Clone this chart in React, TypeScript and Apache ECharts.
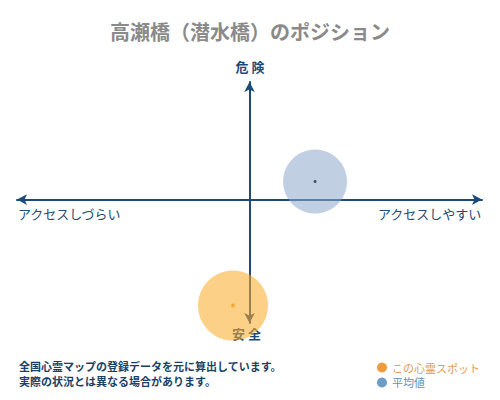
import React, { useEffect, useRef } from "react";
import * as echarts from "echarts";

const titleText = "高瀬橋（潜水橋）のポジション";
const seriesNames = ["この心霊スポット", "平均値"];
const spotPoint = [-7.1, -90.2];
const avgPoint = [28.2, 15.3];
const axisLabels = { top: "危 険", bottom: "安 全", left: "アクセスしづらい", right: "アクセスしやすい" };
const noteLines = ["全国心霊マップの登録データを元に算出しています。", "実際の状況とは異なる場合があります。"];

const FONT = '"Noto Sans CJK JP", "Noto Sans", sans-serif';
const NAVY = "#1c4a7a";

export default function App() {
  const ref = useRef<HTMLDivElement>(null);
  useEffect(() => {
    document.body.style.margin = "0";
    const chart = echarts.init(ref.current!, null, { renderer: "svg" });
    chart.setOption({
      animation: false,
      backgroundColor: "#ffffff",
      title: {
        text: titleText,
        left: "center",
        top: 16,
        textStyle: { fontSize: 20, color: "#8a8a8a", fontWeight: "bold", fontFamily: FONT },
      },
      grid: { left: 17, right: 18, top: 82, bottom: 77 },
      xAxis: {
        type: "value",
        min: -100,
        max: 100,
        splitLine: { show: false },
        axisTick: { show: false },
        axisLabel: { show: false },
        axisLine: {
          show: true,
          onZero: true,
          symbol: ["arrow", "arrow"],
          symbolSize: [8, 10],
          lineStyle: { color: NAVY, width: 2 },
        },
      },
      yAxis: {
        type: "value",
        min: -105,
        max: 100,
        splitLine: { show: false },
        axisTick: { show: false },
        axisLabel: { show: false },
        axisLine: {
          show: true,
          onZero: true,
          symbol: ["arrow", "arrow"],
          symbolSize: [8, 10],
          lineStyle: { color: NAVY, width: 2 },
        },
      },
      legend: {
        orient: "vertical",
        left: 372,
        top: 357,
        itemWidth: 10,
        itemHeight: 10,
        itemGap: 4,
        icon: "circle",
        textStyle: { fontSize: 11, fontFamily: FONT },
        data: [
          { name: seriesNames[0], itemStyle: { color: "#f09a3e", opacity: 1 }, textStyle: { color: "#e39a55" } },
          { name: seriesNames[1], itemStyle: { color: "#6e9cc6", opacity: 1 }, textStyle: { color: "#6b8fb5" } },
        ],
      },
      graphic: [
        { type: "text", left: "center", top: 60, style: { text: axisLabels.top, fill: NAVY, font: `bold 13px ${FONT}` } },
        { type: "text", left: 232, top: 327, style: { text: axisLabels.bottom, fill: NAVY, font: `bold 13px ${FONT}` } },
        { type: "text", left: 18, top: 207, style: { text: axisLabels.left, fill: NAVY, font: `13px ${FONT}` } },
        { type: "text", right: 18, top: 207, style: { text: axisLabels.right, fill: NAVY, font: `13px ${FONT}` } },
        { type: "text", left: 19, top: 360, style: { text: noteLines[0], fill: "#1c3f66", font: `bold 11px ${FONT}` } },
        { type: "text", left: 19, top: 375, style: { text: noteLines[1], fill: "#1c3f66", font: `bold 11px ${FONT}` } },
      ],
      series: [
        {
          name: seriesNames[0],
          type: "scatter",
          data: [spotPoint],
          symbolSize: 70,
          itemStyle: { color: "rgba(251,172,42,0.7)" },
          z: 3,
        },
        {
          name: seriesNames[1],
          type: "scatter",
          data: [avgPoint],
          symbolSize: 64,
          itemStyle: { color: "rgba(142,169,202,0.7)" },
          z: 3,
        },
        {
          name: "spot-dot",
          type: "scatter",
          data: [spotPoint],
          symbolSize: 4,
          itemStyle: { color: "#f0a020" },
          z: 4,
        },
        {
          name: "avg-dot",
          type: "scatter",
          data: [avgPoint],
          symbolSize: 3,
          itemStyle: { color: "#1a2a4a" },
          z: 4,
        },
      ],
    });
    return () => chart.dispose();
  }, []);
  return <div ref={ref} style={{ width: 500, height: 400 }} />;
}
